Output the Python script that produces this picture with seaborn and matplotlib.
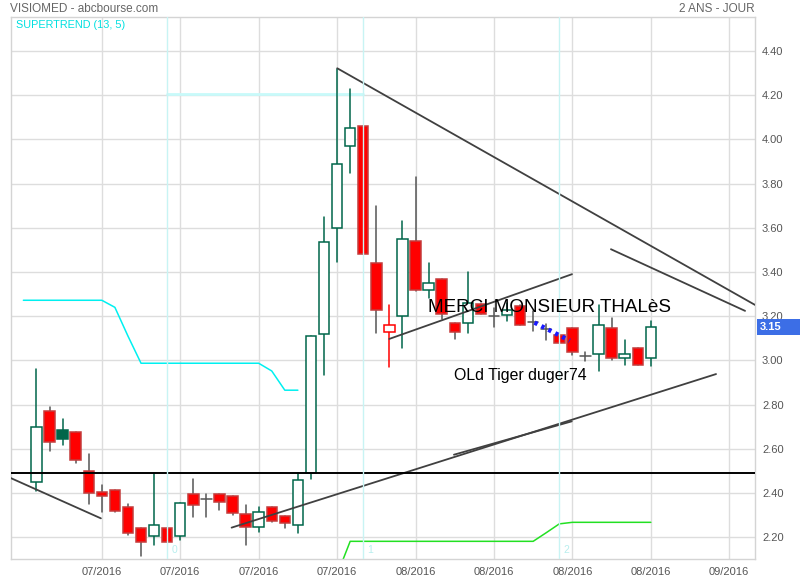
import numpy as np
import pandas as pd
import matplotlib
matplotlib.use("Agg")
import matplotlib.pyplot as plt
from matplotlib.patches import Rectangle
import seaborn as sns

# --- Daily candles ---
opens = [2.45, 2.77, 2.685, 2.675, 2.50, 2.405, 2.415, 2.335, 2.24, 2.205,
         2.24, 2.205, 2.395, 2.372, 2.395, 2.385, 2.305, 2.245, 2.335, 2.295,
         2.255, 2.49, 3.12, 3.60, 3.97, 4.06, 3.44, 3.13, 3.20, 3.54,
         3.32, 3.37, 3.17, 3.17, 3.255, 3.20, 3.205, 3.245, 3.175, 3.14,
         3.115, 3.145, 3.02, 3.03, 3.145, 3.01, 3.055, 3.01]
highs = [2.96, 2.79, 2.735, 2.675, 2.575, 2.435, 2.415, 2.35, 2.24, 2.49,
         2.24, 2.355, 2.465, 2.395, 2.395, 2.385, 2.345, 2.335, 2.335, 2.295,
         2.49, 3.11, 3.65, 4.32, 4.23, 4.06, 3.70, 3.25, 3.63, 3.83,
         3.44, 3.37, 3.17, 3.40, 3.255, 3.235, 3.26, 3.25, 3.225, 3.165,
         3.115, 3.145, 3.04, 3.25, 3.19, 3.09, 3.055, 3.18]
lows = [2.41, 2.59, 2.615, 2.535, 2.35, 2.315, 2.315, 2.21, 2.115, 2.165,
        2.18, 2.185, 2.29, 2.29, 2.325, 2.30, 2.165, 2.225, 2.27, 2.24,
        2.22, 2.465, 2.935, 3.445, 3.85, 3.48, 3.125, 2.97, 3.055, 3.315,
        3.28, 3.185, 3.095, 3.125, 3.21, 3.15, 3.18, 3.16, 3.135, 3.09,
        3.08, 3.025, 2.995, 2.95, 3.00, 2.98, 2.98, 2.975]
closes = [2.70, 2.63, 2.645, 2.55, 2.40, 2.385, 2.32, 2.22, 2.18, 2.255,
          2.18, 2.355, 2.345, 2.372, 2.36, 2.31, 2.245, 2.315, 2.275, 2.265,
          2.46, 3.11, 3.535, 3.89, 4.05, 3.48, 3.23, 3.16, 3.55, 3.32,
          3.35, 3.21, 3.13, 3.26, 3.21, 3.20, 3.23, 3.16, 3.175, 3.14,
          3.08, 3.04, 3.02, 3.16, 3.01, 3.03, 2.98, 3.15]

# --- Supertrend (13, 5) ---
st_high_days = list(range(-1, 21))
st_high_vals = [3.272] * 7 + [3.240, 3.11] + [2.987] * 10 + [2.952, 2.865, 2.865]
st_pale_days = [10, 25]
st_pale_vals = [4.205, 4.205]
st_low_days = list(range(23, 48))
st_low_vals = [2.03] + [2.181] * 15 + [2.22, 2.260] + [2.267] * 7

# --- Drawn trendlines: (day0, price0, day1, price1) ---
trend_lines = [
    (-2.03, 2.469, 4.93, 2.285),
    (14.93, 2.243, 51.99, 2.938),
    (31.94, 2.573, 40.95, 2.724),
    (23.01, 4.322, 54.97, 3.251),
    (43.95, 3.503, 54.21, 3.224),
    (26.99, 3.097, 40.97, 3.390),
]
support_level = 2.489
blue_days = [38.1, 40.8]
blue_vals = [3.171, 3.089]

cycle_days = [10, 25, 40]
cycle_labels = ["0", "1", "2"]

grid_days = [5, 11, 17, 23, 29, 35, 41, 47, 53]
grid_labels = ["07/2016"] * 4 + ["08/2016"] * 4 + ["09/2016"]
price_ticks = [2.20, 2.40, 2.60, 2.80, 3.00, 3.20, 3.40, 3.60, 3.80, 4.00, 4.20, 4.40]
last_price = 3.15

GREEN = "#00664a"
RED = "#ff0000"
GRAY = "#555555"

# --- Figure ---
sns.set_theme(style="white")
plt.rcParams["font.family"] = ["Liberation Sans", "DejaVu Sans"]

fig = plt.figure(figsize=(8, 5.8), dpi=100)
ax = fig.add_axes([10.7 / 800, 21 / 580, (755 - 10.7) / 800, (559 - 17) / 580])
ax.set_xlim(-1.97, 54.97)
ax.set_ylim(2.101, 4.554)

for x in grid_days:
    ax.axvline(x, color="#dddddd", lw=1, zorder=0)
for y in price_ticks:
    ax.axhline(y, color="#dddddd", lw=1, zorder=0)

# supertrend lines
sns.lineplot(x=st_high_days, y=st_high_vals, ax=ax, color="#00f0f0", lw=1.1, sort=False, zorder=2)
sns.lineplot(x=st_pale_days, y=st_pale_vals, ax=ax, color="#c8fafa", lw=2, sort=False, zorder=2)
sns.lineplot(x=st_low_days, y=st_low_vals, ax=ax, color="#22e022", lw=1.1, sort=False, zorder=2)

# candles
w = 0.8
for i, (o, h, l, c) in enumerate(zip(opens, highs, lows, closes)):
    prev = closes[i - 1] if i else o
    if c == o:
        ax.plot([i, i], [l, h], color=GRAY, lw=1.1, zorder=3)
        ax.plot([i - w / 2, i + w / 2], [c, c], color=GRAY, lw=1.1, zorder=3)
        continue
    col = GREEN if c > prev else RED
    hollow = c > o
    if hollow:
        wick, face, edge = col, "white", col
    elif col == RED:
        wick, face, edge = GRAY, RED, "#c43c3c"
    else:
        wick, face, edge = GREEN, GREEN, GREEN
    ax.plot([i, i], [l, h], color=wick, lw=1.1, zorder=3)
    ax.add_patch(Rectangle((i - w / 2, min(o, c)), w, abs(c - o),
                           facecolor=face, edgecolor=edge, lw=1.1, zorder=4))

# trendlines
for d0, p0, d1, p1 in trend_lines:
    ax.plot([d0, d1], [p0, p1], color="#404040", lw=1.3, zorder=5)
ax.axhline(support_level, color="black", lw=1.4, zorder=5)
ax.plot(blue_days, blue_vals, color="#1a1aff", lw=3.2, linestyle=(0, (0.75, 1.0)), zorder=8)

# cycle markers
for d, lab in zip(cycle_days, cycle_labels):
    ax.axvline(d, color="#c8f4f4", lw=1, zorder=6)
    ax.annotate(lab, xy=(d, 0), xycoords=("data", "axes fraction"), xytext=(4, 4),
                textcoords="offset pixels", color="#b8eeee", fontsize=7.5, va="bottom")

ax.text(29.95, 3.220, "MERCI MONSIEUR THALèS", fontsize=13.6, color="black",
        va="baseline", ha="left", zorder=7)
ax.text(31.95, 2.913, "OLd Tiger duger74", fontsize=11.4, color="black",
        va="baseline", ha="left", zorder=7)

# axes styling
ax.set_xticks(grid_days)
ax.set_xticklabels(grid_labels)
ax.set_yticks(price_ticks)
ax.set_yticklabels([f"{p:.2f}" for p in price_ticks])
ax.yaxis.tick_right()
ax.tick_params(axis="both", length=0, labelsize=8, labelcolor="#555555")
ax.tick_params(axis="y", pad=5)
ax.tick_params(axis="x", pad=6)
for sp in ax.spines.values():
    sp.set_color("#d4d4d4")
    sp.set_linewidth(1)
ax.grid(False)

# last price tag
px, py = ax.transData.transform((0, last_price))
fy = py / fig.bbox.height
fig.patches.append(Rectangle((757 / 800, fy - 8 / 580), 43 / 800, 16 / 580,
                             transform=fig.transFigure, facecolor="#3c6ee6",
                             edgecolor="none", figure=fig))
fig.text(760 / 800, fy, f"{last_price:.2f}", color="white", fontsize=8,
         fontweight="bold", va="center", ha="left")

fig.text(10 / 800, 1 - 9 / 580, "VISIOMED - abcbourse.com", fontsize=8.5,
         color="#666666", va="center", ha="left")
fig.text(755 / 800, 1 - 9 / 580, "2 ANS - JOUR", fontsize=8.5,
         color="#666666", va="center", ha="right")
fig.text(16 / 800, 1 - 25 / 580, "SUPERTREND (13, 5)", fontsize=7.8,
         color="#00e0e0", va="center", ha="left")

fig.savefig("out.png", dpi=100)
plt.close(fig)
